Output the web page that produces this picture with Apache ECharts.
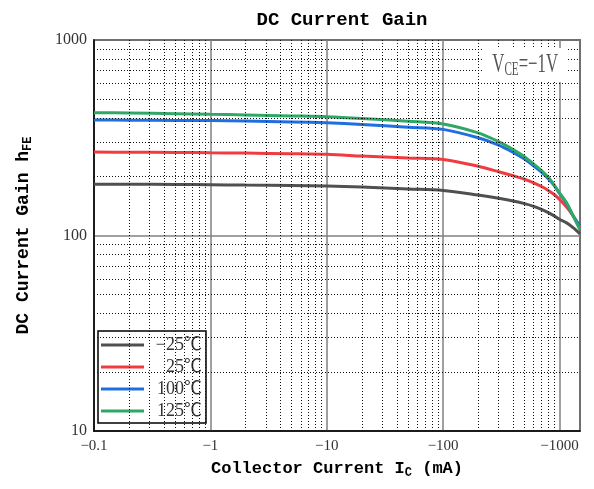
<!DOCTYPE html>
<html>
<head>
<meta charset="utf-8">
<script src="https://cdn.jsdelivr.net/npm/echarts@6/dist/echarts.min.js"></script>
<style>html,body{margin:0;padding:0;background:#fff}#c{width:594px;height:489px}</style>
</head>
<body>
<div id="c"></div>
<script>
// Collector current |Ic| in mA
const currentMA = [0.1,0.2,0.5,1,2,5,10,20,50,100,200,300,400,500,600,700,800,900,1000,1150,1300,1500];
// hFE per temperature
const gainM25 = [183,183,182.5,182,181,180,179,177,173,170,161,155,150,145.5,141,136,131,126,121,116,110,102];
const gain25  = [267,266.5,266,265,264,262,260,255,249,245,226,212,202,194,186,178,170,162,153,140,127,110];
const gain100 = [390,389,388,387,385,381,377,370,358,349,316,290,266,246,227,211,195,180,164,146,127,112];
const gain125 = [425,423,420,417,414,409,405,397,384,372,335,302,275,253,232,215,199,181,165,147,127,107];
const seriesNames = ['−25℃','25℃','100℃','125℃'];
const seriesColors = ['#505050','#f03c40','#1f6fe0','#2fa866'];
// axis ticks
const xTickLabels = {'-1':'−0.1','0':'−1','1':'−10','2':'−100','3':'−1000'};
const yTickLabels = {'1':'10','2':'100','3':'1000'};
const xMinor = [0.2,0.3,0.4,0.5,0.6,0.7,0.8,0.9,2,3,4,5,6,7,8,9,20,30,40,50,60,70,80,90,200,300,400,500,600,700,800,900];
const yMinor = [20,30,40,50,60,70,80,90,200,300,400,500,600,700,800,900];

const chart = echarts.init(document.getElementById('c'));
const allGains = [gainM25, gain25, gain100, gain125];
const curveSeries = allGains.map((g, i) => ({
  name: seriesNames[i],
  type: 'line',
  color: seriesColors[i],
  data: currentMA.map((x, k) => [x, g[k]]),
  showSymbol: false,
  smooth: 0.3,
  lineStyle: {width: 3, color: seriesColors[i]},
  z: 3,
  animation: false
}));
const gridSeries = {
  type: 'line',
  data: [],
  silent: true,
  z: 1,
  animation: false,
  markLine: {
    silent: true,
    symbol: ['none','none'],
    label: {show: false},
    animation: false,
    lineStyle: {type: [1,2], color: '#111', width: 1},
    emphasis: {disabled: true},
    data: xMinor.map(v => ({xAxis: v})).concat(yMinor.map(v => ({yAxis: v})))
  }
};
const serif = '"Liberation Serif", "Noto Sans CJK JP", serif';
const mono = '"Liberation Mono", "DejaVu Sans Mono", monospace';
chart.setOption({
  backgroundColor: '#fff',
  animation: false,
  title: {
    text: 'DC Current Gain',
    left: 337, top: 6, textAlign: 'center',
    textStyle: {fontFamily: mono, fontWeight: 'bold', fontSize: 19, color: '#000'}
  },
  grid: {left: 94, right: 14, top: 40, bottom: 58, show: true, borderColor: '#000', borderWidth: 1.5, backgroundColor: 'transparent'},
  legend: {
    orient: 'vertical', left: 98, top: 331,
    backgroundColor: '#fff', borderColor: '#000', borderWidth: 1.5, borderRadius: 0,
    padding: [5, 4, 3, 3], itemGap: 4,
    icon: 'rect', itemWidth: 43, itemHeight: 3,
    data: seriesNames,
    formatter: n => '{a|' + n + '}',
    textStyle: {color: '#333', rich: {a: {fontFamily: serif, fontSize: 18, width: 53, align: 'right', lineHeight: 19}}}
  },
  xAxis: {
    type: 'log', logBase: 10, min: 0.1, max: 1500,
    name: '{n|Collector Current I}{s|C}{n| (mA)}',
    nameLocation: 'middle', nameGap: 28,
    nameTextStyle: {rich: {
      n: {fontFamily: mono, fontWeight: 'bold', fontSize: 17, color: '#000', lineHeight: 20},
      s: {fontFamily: mono, fontWeight: 'bold', fontSize: 12, color: '#000', lineHeight: 12, verticalAlign: 'bottom'}
    }},
    axisLine: {show: true, lineStyle: {color: '#000', width: 1.5}},
    axisTick: {show: false},
    axisLabel: {
      margin: 8, fontFamily: serif, fontSize: 15, color: '#333',
      formatter: v => { const e = Math.round(Math.log10(v)); return Math.abs(Math.log10(v) - e) < 1e-6 ? (xTickLabels[String(e)] || '') : ''; }
    },
    splitLine: {show: true, lineStyle: {color: '#808080', width: 1.5}}
  },
  yAxis: {
    type: 'log', logBase: 10, min: 10, max: 1000,
    name: '{n|DC Current Gain h}{s|FE}',
    nameLocation: 'middle', nameGap: 60,
    nameTextStyle: {rich: {
      n: {fontFamily: mono, fontWeight: 'bold', fontSize: 18, color: '#000', lineHeight: 22},
      s: {fontFamily: mono, fontWeight: 'bold', fontSize: 12, color: '#000', lineHeight: 12, verticalAlign: 'bottom'}
    }},
    axisLine: {show: true, lineStyle: {color: '#000', width: 1.5}},
    axisTick: {show: false},
    axisLabel: {
      margin: 7, fontFamily: serif, fontSize: 16, color: '#333',
      formatter: v => { const e = Math.round(Math.log10(v)); return Math.abs(Math.log10(v) - e) < 1e-6 ? (yTickLabels[String(e)] || '') : ''; }
    },
    splitLine: {show: true, lineStyle: {color: '#808080', width: 1.5}}
  },
  graphic: [{
    type: 'text', x: 483, y: 48, z: 10, scaleX: 0.62,
    style: {
      text: '{v|V}{s|CE}{v|=−1V}',
      backgroundColor: '#fff',
      padding: [3, 15, 3, 15],
      rich: {
        v: {fontFamily: serif, fontSize: 27, fill: '#555', lineHeight: 28},
        s: {fontFamily: serif, fontSize: 18, fill: '#555', lineHeight: 18, verticalAlign: 'bottom'}
      }
    }
  }],
  series: [gridSeries].concat(curveSeries)
});
</script>
</body>
</html>
